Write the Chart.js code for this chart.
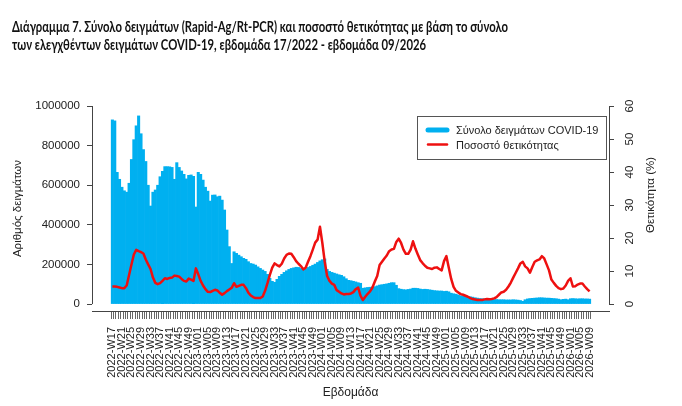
<!DOCTYPE html>
<html>
<head>
<meta charset="utf-8">
<script src="https://cdn.jsdelivr.net/npm/chart.js@4.4.0/dist/chart.umd.min.js"></script>
<style>
  html, body { margin: 0; padding: 0; background: #fff; }
</style>
</head>
<body>
<canvas id="chart" width="682" height="406"></canvas>
<script>
var titleLines = [
    'Διάγραμμα 7. Σύνολο δειγμάτων (Rapid-Ag/Rt-PCR) και ποσοστό θετικότητας με βάση το σύνολο',
    'των ελεγχθέντων δειγμάτων COVID-19, εβδομάδα 17/2022 - εβδομάδα 09/2026'
];

// ISO weeks 2022-W17 ... 2026-W09
function weekRange(year, from, to) {
    var out = [];
    for (var w = from; w <= to; w++) {
        out.push(year + '-W' + (w < 10 ? '0' + w : w));
    }
    return out;
}
var weeks = [].concat(
    weekRange(2022, 17, 52),
    weekRange(2023, 1, 52),
    weekRange(2024, 1, 52),
    weekRange(2025, 1, 52),
    weekRange(2026, 1, 9)
);

// total samples per week
var samples = [
    930000, 925000, 665000, 630000, 590000, 572000, 565000, 610000, 730000, 830000,
    900000, 950000, 860000, 780000, 720000, 600000, 495000, 565000, 576000, 600000,
    643000, 670000, 694000, 694000, 693000, 690000, 630000, 714000, 690000, 672000,
    655000, 632000, 650000, 652000, 645000, 490000, 665000, 655000, 626000, 590000,
    570000, 520000, 550000, 551000, 542000, 545000, 525000, 475000, 374000, 290000,
    205000, 264000, 256000, 247000, 239000, 231000, 226000, 214000, 205000, 202000,
    197000, 188000, 180000, 172000, 165000, 150000, 130000, 115000, 110000, 125000,
    140000, 150000, 160000, 168000, 175000, 180000, 183000, 186000, 185000, 180000,
    175000, 178000, 185000, 190000, 196000, 202000, 210000, 218000, 224000, 228000,
    175000, 165000, 160000, 156000, 152000, 148000, 145000, 138000, 128000, 120000,
    118000, 115000, 112000, 108000, 105000, 80000, 82000, 84000, 85000, 86000,
    88000, 92000, 96000, 98000, 100000, 102000, 105000, 108000, 108000, 95000,
    78000, 75000, 73000, 72000, 74000, 76000, 80000, 80000, 79000, 76000,
    74000, 75000, 74000, 72000, 70000, 68000, 67000, 66000, 66000, 64000,
    65000, 62000, 55000, 52000, 50000, 46000, 42000, 40000, 39000, 38000,
    37000, 35000, 32000, 30000, 28000, 27000, 26000, 25000, 24000, 24000,
    23000, 23000, 22000, 22000, 22000, 21000, 21000, 21000, 22000, 21000,
    20000, 18000, 14000, 22000, 26000, 28000, 29000, 30000, 31000, 32000,
    32000, 31000, 30000, 30000, 29000, 28000, 27000, 25000, 22000, 24000,
    25000, 22000, 27000, 28000, 27000, 26000, 27000, 27000, 26000, 26000,
    25000
];

// positivity (%)
var positivity = [
    5.3, 5.3, 5.2, 5.0, 4.8, 4.8, 5.6, 8.8, 12.0, 15.0,
    16.4, 16.0, 15.7, 15.3, 13.5, 12.0, 10.6, 8.0, 6.4, 6.0,
    6.3, 7.0, 7.8, 7.6, 7.9, 8.0, 8.6, 8.5, 8.3, 7.6,
    7.0, 6.8, 7.7, 7.4, 7.0, 10.8, 9.0, 7.0, 5.6, 4.5,
    3.7, 3.6, 4.0, 4.3, 4.1, 3.4, 2.8, 3.3, 3.9, 4.4,
    4.9, 6.3, 5.2, 5.5, 5.8, 5.8, 4.8, 3.4, 2.6, 2.1,
    1.8, 1.8, 1.8, 2.3, 4.0, 6.3, 8.8, 11.0, 12.3, 11.8,
    11.4, 12.2, 13.8, 14.9, 15.3, 15.2, 14.2, 13.0, 12.2, 11.5,
    10.5, 11.0, 12.8, 14.5, 16.5, 18.6, 19.5, 23.4, 18.5, 12.8,
    8.5, 7.0, 6.2, 5.8, 4.2, 3.7, 3.2, 2.9, 3.0, 3.0,
    3.2, 3.6, 4.5, 5.0, 2.5, 1.2, 2.2, 3.1, 3.8, 5.0,
    6.8, 8.5, 11.8, 12.8, 13.8, 14.7, 16.0, 16.5, 16.7, 18.8,
    19.8, 18.5, 16.5, 15.2, 15.2, 16.5, 19.0, 16.8, 15.0, 13.3,
    12.4, 11.6, 11.0, 10.8, 10.6, 11.0, 11.1, 10.6, 10.2, 13.0,
    14.5, 11.0, 7.6, 5.2, 4.0, 3.5, 3.0, 2.8, 2.5, 2.2,
    1.8, 1.5, 1.35, 1.2, 1.2, 1.2, 1.4, 1.5, 1.45, 1.5,
    1.7, 2.1, 2.8, 3.5, 3.7, 4.3, 5.3, 6.5, 8.0, 9.4,
    10.8, 12.3, 12.8, 11.4, 10.8, 9.5, 11.2, 12.8, 13.2, 13.5,
    14.5, 13.8, 12.0, 10.2, 7.4, 6.4, 5.5, 4.8, 4.5, 4.7,
    5.6, 7.0, 7.8, 5.3, 5.4, 5.9, 6.2, 6.2, 5.3, 4.5,
    3.8
];

var sampleTicks = [0, 200000, 400000, 600000, 800000, 1000000];
var pctTicks = [0, 10, 20, 30, 40, 50, 60];

var family = '"Liberation Sans", Arial, sans-serif';
var titleFamily = 'Lato, "Liberation Sans", sans-serif';
var textColor = '#222';
var axisColor = '#444';
var barBlue = '#00B0F0';
var lineRed = '#EE1010';

// titles, R-style axis lines, rotated right axis and the boxed legend
var decor = {
    id: 'decor',
    afterDraw: function (chart) {
        var c = chart.ctx;
        var area = chart.chartArea;
        var y = chart.scales.y, y1 = chart.scales.y1;
        c.save();

        c.fillStyle = '#111';
        c.font = 'bold 15px ' + titleFamily;
        c.textAlign = 'left';
        c.textBaseline = 'alphabetic';
        var sx = 496 / c.measureText(titleLines[0]).width;
        c.save();
        c.translate(12, 0);
        c.scale(sx, 1);
        c.fillText(titleLines[0], 0, 32);
        c.fillText(titleLines[1], 0, 50);
        c.restore();

        c.strokeStyle = axisColor;
        c.lineWidth = 1;
        c.beginPath();
        c.moveTo(Math.round(area.left) + 0.5, y.getPixelForValue(0));
        c.lineTo(Math.round(area.left) + 0.5, y.getPixelForValue(1000000));
        c.moveTo(Math.round(area.right) + 0.5, y1.getPixelForValue(0));
        c.lineTo(Math.round(area.right) + 0.5, y1.getPixelForValue(60));
        c.stroke();

        c.fillStyle = textColor;
        c.font = '11.5px ' + family;
        c.textAlign = 'center';
        c.textBaseline = 'middle';
        pctTicks.forEach(function (v) {
            c.save();
            c.translate(area.right + 21, y1.getPixelForValue(v));
            c.rotate(-Math.PI / 2);
            c.fillText(String(v), 0, 0);
            c.restore();
        });
        c.save();
        c.translate(area.right + 42, 195);
        c.rotate(-Math.PI / 2);
        c.fillText('Θετικότητα (%)', 0, 0);
        c.restore();

        // legend
        var lw = 189, lh = 43;
        var lx = Math.round(area.right) - 3 - lw, ly = Math.round(area.top) + 10;
        c.strokeStyle = '#555';
        c.lineWidth = 1;
        c.strokeRect(lx + 0.5, ly + 0.5, lw, lh);
        var order = [1, 0];
        c.font = '11px ' + family;
        c.textAlign = 'left';
        order.forEach(function (di, row) {
            var ds = chart.data.datasets[di];
            var ry = ly + 14 + row * 14.5;
            c.strokeStyle = ds.type === 'bar' ? ds.backgroundColor : ds.borderColor;
            c.lineWidth = ds.type === 'bar' ? 5 : 2.5;
            c.lineCap = 'round';
            c.beginPath();
            c.moveTo(lx + 11, ry);
            c.lineTo(lx + 30, ry);
            c.stroke();
            c.fillStyle = textColor;
            c.fillText(ds.label, lx + 39, ry + 1);
        });

        c.restore();
    }
};

var ctx = document.getElementById('chart').getContext('2d');
var myChart = new Chart(ctx, {
    type: 'bar',
    data: {
        datasets: [
            {
                type: 'line',
                label: 'Ποσοστό θετικότητας',
                data: positivity.map(function (v, i) { return { x: i, y: v }; }),
                yAxisID: 'y1',
                borderColor: lineRed,
                borderWidth: 2.5,
                borderJoinStyle: 'round',
                pointRadius: 0,
                tension: 0,
                order: 0
            },
            {
                type: 'bar',
                label: 'Σύνολο δειγμάτων COVID-19',
                data: samples.map(function (v, i) { return { x: i, y: v }; }),
                yAxisID: 'y',
                backgroundColor: barBlue,
                borderWidth: 0,
                barPercentage: 1,
                categoryPercentage: 1,
                order: 1
            }
        ]
    },
    options: {
        responsive: false,
        animation: false,
        layout: { padding: { top: 106, left: 0, right: 0, bottom: 0 } },
        plugins: {
            legend: { display: false },
            tooltip: { enabled: false },
            title: { display: false }
        },
        scales: {
            x: {
                type: 'linear',
                min: -8.0,
                max: 207.6,
                afterBuildTicks: function (s) {
                    s.ticks = weeks.map(function (w, i) { return { value: i }; });
                },
                afterFit: function (s) { s.height = 95; },
                grid: { drawOnChartArea: false, drawTicks: true, tickLength: 8, color: '#666' },
                border: { display: true, color: axisColor },
                ticks: {
                    autoSkip: false,
                    minRotation: 90,
                    maxRotation: 90,
                    padding: 8,
                    color: textColor,
                    font: { family: family, size: 11 },
                    callback: function (v, idx) {
                        return idx % 4 === 0 ? weeks[idx] : '';
                    }
                },
                title: {
                    display: true,
                    text: 'Εβδομάδα',
                    color: textColor,
                    font: { family: family, size: 12 },
                    padding: { top: 0, bottom: 6 }
                }
            },
            y: {
                position: 'left',
                min: -35000,
                max: 1000000,
                afterBuildTicks: function (s) {
                    s.ticks = sampleTicks.map(function (v) { return { value: v }; });
                },
                afterFit: function (s) { s.width = 92; },
                grid: { drawOnChartArea: false, drawTicks: true, tickLength: 5, color: axisColor },
                border: { display: false },
                ticks: {
                    padding: 7,
                    color: textColor,
                    font: { family: family, size: 11.5 },
                    callback: function (v) { return String(v); }
                },
                title: {
                    display: true,
                    text: 'Αριθμός δειγμάτων',
                    color: textColor,
                    font: { family: family, size: 11.5 },
                    padding: { top: 11, bottom: 0 }
                }
            },
            y1: {
                position: 'right',
                min: -2.12,
                max: 60,
                afterBuildTicks: function (s) {
                    s.ticks = pctTicks.map(function (v) { return { value: v }; });
                },
                afterFit: function (s) { s.width = 73; },
                grid: { drawOnChartArea: false, drawTicks: true, tickLength: 5, color: axisColor },
                border: { display: false },
                ticks: { display: false }
            }
        }
    },
    plugins: [decor]
});
</script>
</body>
</html>
